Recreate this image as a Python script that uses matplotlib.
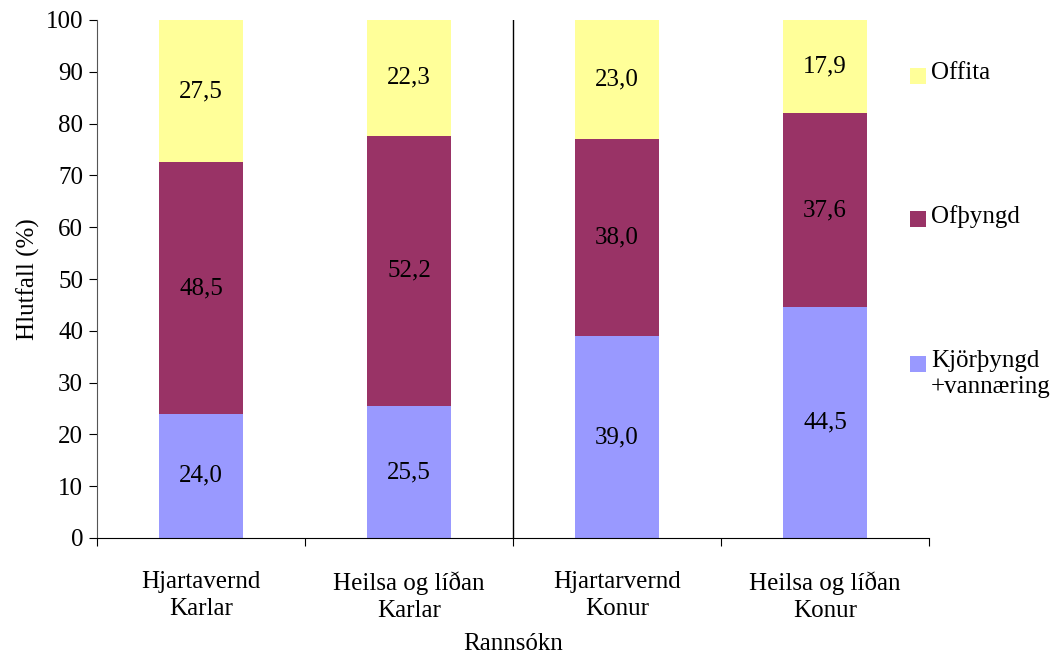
import matplotlib.pyplot as plt
from matplotlib.patches import Rectangle
import numpy as np

# data
categories = ["Hjartavernd\nKarlar", "Heilsa og líðan\nKarlar", "Hjartarvernd\nKonur", "Heilsa og líðan\nKonur"]
kjorthyngd = [24.0, 25.5, 39.0, 44.5]
ofthyngd = [48.5, 52.2, 38.0, 37.6]
offita = [27.5, 22.3, 23.0, 17.9]

series_names = ["Kjörþyngd\n+vannæring", "Ofþyngd", "Offita"]
colors = ["#9999FF", "#993366", "#FFFF99"]

plt.rcParams['font.family'] = ['Liberation Serif', 'DejaVu Serif']
fs = 18

fig = plt.figure(figsize=(10.52, 6.55), dpi=100)
ax = fig.add_axes([97/1052, 1-538/655, 832/1052, 518/655])

x = np.arange(len(categories))
bottom = np.zeros(len(categories))
for vals, col in zip([kjorthyngd, ofthyngd, offita], colors):
    vals = np.array(vals)
    ax.bar(x, vals, width=0.405, bottom=bottom, color=col, edgecolor='none')
    for xi, b, v in zip(x, bottom, vals):
        ax.text(xi, b + v/2, ("%0.1f" % v).replace('.', ','), ha='center', va='center', fontsize=fs)
    bottom = bottom + vals

# separator between men and women
ax.axvline(1.5, color='black', lw=1)

ax.set_xlim(-0.5, 3.5)
ax.set_ylim(0, 100)
ax.set_yticks(np.arange(0, 101, 10))
ax.set_xticks(np.arange(-0.5, 3.6, 1))
ax.set_xticklabels([])
ax.set_xticks(x, minor=True)
ax.set_xticklabels(categories, minor=True, fontsize=fs, linespacing=1.3)
ax.tick_params(axis='x', which='minor', length=0, pad=24)
ax.tick_params(axis='x', which='major', length=6, direction='out')
ax.tick_params(axis='y', length=6, direction='out', labelsize=fs, pad=4)
for s in ['top', 'right']:
    ax.spines[s].set_visible(False)
ax.spines['left'].set_color('#555555')

ax.set_xlabel("Rannsókn", fontsize=fs)
ax.xaxis.set_label_coords(0.5, -(633-538)/518)
ax.set_ylabel("Hlutfall (%)", fontsize=fs, labelpad=4)

# legend drawn at right, top entry first
leg_y = [76, 219, 364]
for name, col, yy in zip(series_names[::-1], colors[::-1], leg_y):
    fig.patches.append(Rectangle((910/1052, 1-(yy+8)/655), 16/1052, 16/655,
                                 transform=fig.transFigure, facecolor=col, edgecolor='none'))
    fig.text(931/1052, 1-(yy-14)/655, name, fontsize=fs, va='top', ha='left', linespacing=1.25)

plt.savefig("out.png", dpi=100)
